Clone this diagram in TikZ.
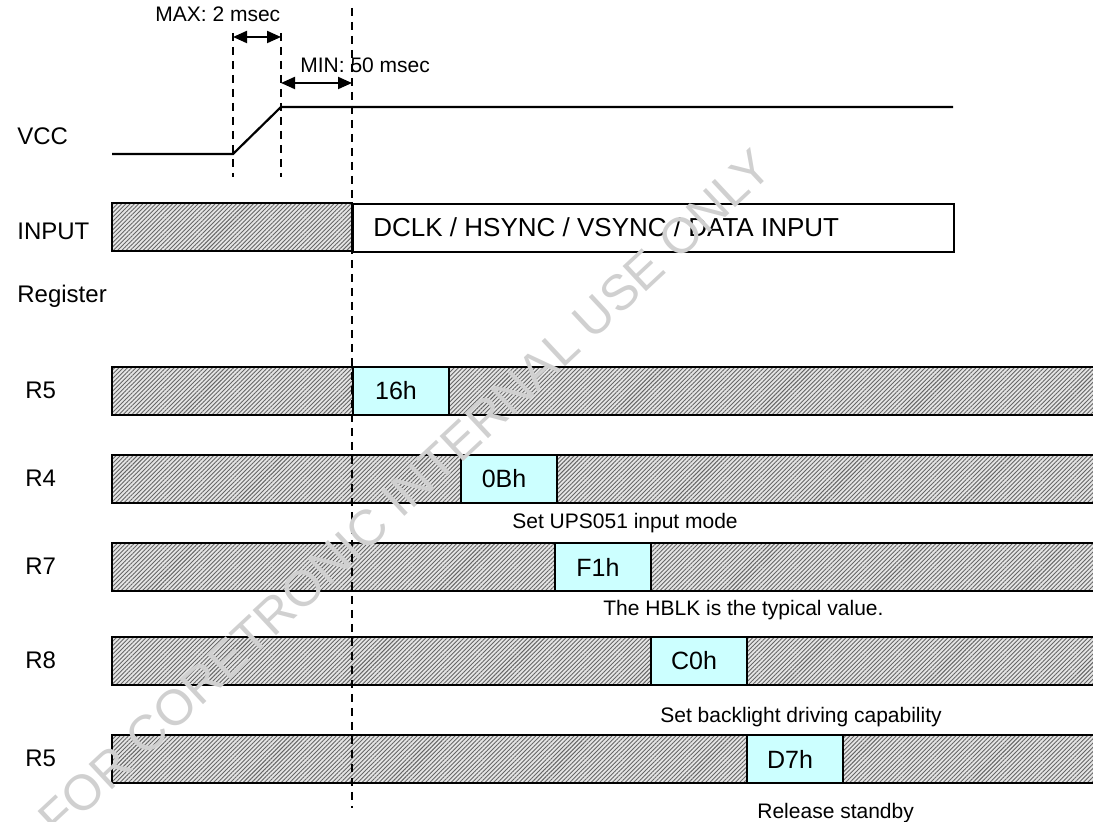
\documentclass[tikz,border=0pt]{standalone}
\usepackage{fontspec}
\setmainfont{Liberation Sans}
\usetikzlibrary{arrows.meta,positioning,patterns.meta}
\definecolor{regcyan}{RGB}{204,255,255}
\definecolor{stampgray}{RGB}{208,208,208}

\begin{document}
\begin{tikzpicture}[x=0.5pt, y=-0.5pt, >={Triangle[length=7pt,width=6pt]},
    sig/.style={line width=1.1pt},
    guide/.style={line width=0.9pt, dash pattern=on 4pt off 3pt},
    hatched/.style={preaction={fill=gray!20}, pattern={Lines[angle=45,distance=1.5pt,line width=0.45pt]}, pattern color=black!60},
    rowname/.style={anchor=base west, inner sep=0pt, font=\fontsize{12}{14}\selectfont},
    regval/.style={draw, fill=regcyan, line width=1.1pt, minimum width=48pt, minimum height=24pt, inner sep=0pt, font=\fontsize{12.5}{14}\selectfont, execute at end node={\hspace{5pt}}},
    remark/.style={anchor=base west, inner sep=0pt, font=\fontsize{10.5}{12}\selectfont}]
  \useasboundingbox (0,0) rectangle (1093,822);
  \clip (0,0) rectangle (1093,822);
  % row names
  \node[rowname] (vcc) at (17,145) {VCC};
  \node[rowname] (inp) at (17,240) {INPUT};
  \node[rowname] (reg) at (17,303) {Register};
  \node[rowname] (n5a) at (25,399) {R5};
  \node[rowname] (n4) at (25,487) {R4};
  \node[rowname] (n7) at (25,575) {R7};
  \node[rowname] (n8) at (25,669) {R8};
  \node[rowname] (n5b) at (25,767) {R5};
  % VCC ramp
  \coordinate (v0) at (112,154);
  \coordinate (v1) at (233,154);
  \coordinate (v2) at (281,107);
  \coordinate (v3) at (953,107);
  \draw[sig] (v0) -- (v1) -- (v2) -- (v3);
  % input
  \draw[sig, hatched] (112,203) rectangle (352,251);
  \node[draw, line width=1.1pt, minimum width=300.5pt, minimum height=24pt, inner sep=0pt, anchor=north west] (inbox) at (352,203) {};
  \node[anchor=base west, inner sep=0pt, font=\fontsize{13}{15}\selectfont] (intext) at (373,237) {DCLK / HSYNC / VSYNC / DATA INPUT};
  % register bars
  \fill[hatched] (112,367) rectangle (1100,415);
  \draw[sig] (1100,367) -- (112,367) -- (112,415) -- (1100,415);
  \fill[hatched] (112,455) rectangle (1100,503);
  \draw[sig] (1100,455) -- (112,455) -- (112,503) -- (1100,503);
  \fill[hatched] (112,543) rectangle (1100,591);
  \draw[sig] (1100,543) -- (112,543) -- (112,591) -- (1100,591);
  \fill[hatched] (112,637) rectangle (1100,685);
  \draw[sig] (1100,637) -- (112,637) -- (112,685) -- (1100,685);
  \fill[hatched] (112,735) rectangle (1100,783);
  \draw[sig] (1100,735) -- (112,735) -- (112,783) -- (1100,783);
  \node[regval] (r5a) at (401,391) {16h};
  \node[regval] (r4) at (509,479) {0Bh};
  \node[regval] (r7) at (603,567) {F1h};
  \node[regval] (r8) at (699,661) {C0h};
  \node[regval] (r5b) at (795,759) {D7h};
  \node[remark] (c4) at (512,529) {Set UPS051 input mode};
  \node[remark] (c7) at (603,616) {The HBLK is the typical value.};
  \node[remark] (c8) at (660,723) {Set backlight driving capability};
  \node[remark] (c5) at (757,819) {Release standby};
  % timing marks
  \node[remark] (maxlbl) at (155,22) {MAX: 2 msec};
  \node[remark] (minlbl) at (300,73) {MIN: 50 msec};
  \coordinate (t1) at (233,33);
  \coordinate (b1) at (233,177);
  \coordinate (t2) at (281,33);
  \coordinate (b2) at (281,177);
  \coordinate (t3) at (352,8);
  \coordinate (b3) at (352,808);
  \draw[guide] (t1) -- (b1);
  \draw[guide] (t2) -- (b2);
  \draw[guide] (t3) -- (b3);
  \coordinate (m1) at (233,37);
  \coordinate (m2) at (281,37);
  \coordinate (m3) at (281,83);
  \coordinate (m4) at (352,83);
  \draw[<->, line width=1pt] (m1) -- (m2);
  \draw[<->, line width=1pt] (m3) -- (m4);
  % stamp
  \node[rotate=43, text=stampgray, font=\fontsize{25}{30}\selectfont, inner sep=0pt] (stamp) at (405,493) {FOR CORETRONIC INTERNAL USE ONLY};
\end{tikzpicture}
\end{document}
